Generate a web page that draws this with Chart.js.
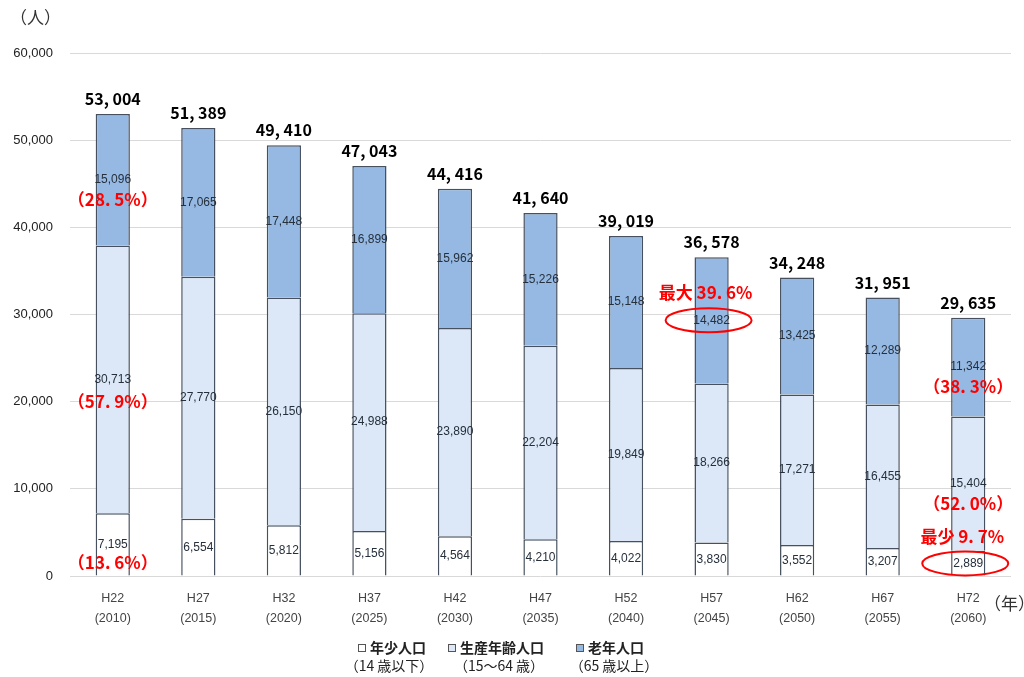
<!DOCTYPE html>
<html>
<head>
<meta charset="utf-8">
<script src="https://cdn.jsdelivr.net/npm/chart.js@4.4.0/dist/chart.umd.min.js"></script>
<style>
  html, body { margin: 0; padding: 0; background: #fff; }
  #wrap { width: 1024px; height: 677px; position: relative; }
</style>
</head>
<body>
<div id="wrap"><canvas id="popChart"></canvas></div>
<script>
// population by age group (persons)
const eraLabels  = ['H22', 'H27', 'H32', 'H37', 'H42', 'H47', 'H52', 'H57', 'H62', 'H67', 'H72'];
const yearLabels = ['(2010)', '(2015)', '(2020)', '(2025)', '(2030)', '(2035)', '(2040)', '(2045)', '(2050)', '(2055)', '(2060)'];
const young   = [7195, 6554, 5812, 5156, 4564, 4210, 4022, 3830, 3552, 3207, 2889];
const working = [30713, 27770, 26150, 24988, 23890, 22204, 19849, 18266, 17271, 16455, 15404];
const elderly = [15096, 17065, 17448, 16899, 15962, 15226, 15148, 14482, 13425, 12289, 11342];
const seriesNames = ['年少人口', '生産年齢人口', '老年人口'];
const seriesNotes = ['（14 歳以下）', '（15～64 歳）', '（65 歳以上）'];
const yMax = 60000;
const yStep = 10000;

const segColors = ['#ffffff', '#dce8f7', '#95b9e3'];
const edgeColor = '#46505e';
const series = [young, working, elderly];
const totals = young.map((v, i) => v + working[i] + elderly[i]);

const jpFont = '"Noto Sans CJK JP", "Noto Sans", sans-serif';
const fmt = n => n.toLocaleString('en-US');
const fmtWide = n => fmt(n).replace(/,/g, ', ');
const pct = (i, s) => (series[s][i] / totals[i] * 100).toFixed(1);

// red call-outs: which bar/segment, and whether to ring the value
const last = eraLabels.length - 1;
const maxElderly = elderly.map((v, i) => v / totals[i]).reduce((b, r, i, a) => r > a[b] ? i : b, 0);
const callouts = [
  { bar: 0, seg: 2, text: () => '（' + pct(0, 2) + '%）', dy: 20 },
  { bar: 0, seg: 1, text: () => '（' + pct(0, 1) + '%）', dy: 22 },
  { bar: 0, seg: 0, text: () => '（' + pct(0, 0) + '%）', dy: 18 },
  { bar: last, seg: 2, text: () => '（' + pct(last, 2) + '%）', dy: 19 },
  { bar: last, seg: 1, text: () => '（' + pct(last, 1) + '%）', dy: 20 },
  { bar: last, seg: 0, text: () => '最少 ' + pct(last, 0) + '%', dy: -27, ring: true },
  { bar: maxElderly, seg: 2, text: () => '最大 ' + pct(maxElderly, 2) + '%', dy: -28, ring: true }
];

const labelPlugin = {
  id: 'barLabels',
  afterDatasetsDraw(chart) {
    const ctx = chart.ctx;
    const y = chart.scales.y;
    ctx.save();
    ctx.textAlign = 'center';
    ctx.textBaseline = 'middle';

    // segment values
    ctx.font = '12px "Liberation Sans", Arial, sans-serif';
    ctx.fillStyle = '#26303c';
    series.forEach((data, s) => {
      const meta = chart.getDatasetMeta(s);
      data.forEach((v, i) => {
        const base = series.slice(0, s).reduce((a, d) => a + d[i], 0);
        ctx.fillText(fmt(v), meta.data[i].x, y.getPixelForValue(base + v / 2));
      });
    });

    // totals above bars
    ctx.font = 'bold 16px ' + jpFont;
    ctx.fillStyle = '#000';
    const topMeta = chart.getDatasetMeta(2);
    totals.forEach((t, i) => {
      ctx.fillText(fmtWide(t), topMeta.data[i].x, y.getPixelForValue(t) - 15);
    });

    // red notes
    ctx.font = 'bold 17px ' + jpFont;
    ctx.fillStyle = '#ff0000';
    ctx.strokeStyle = '#ff0000';
    ctx.lineWidth = 2;
    callouts.forEach(c => {
      const x = chart.getDatasetMeta(c.seg).data[c.bar].x;
      const base = series.slice(0, c.seg).reduce((a, d) => a + d[c.bar], 0);
      const cy = y.getPixelForValue(base + series[c.seg][c.bar] / 2);
      ctx.fillText(c.text().replace(/\./, '. '), x + (c.ring ? -6 : 0), cy + c.dy);
      if (c.ring) {
        ctx.beginPath();
        ctx.ellipse(x - 3, cy, 43, 12, 0, 0, Math.PI * 2);
        ctx.stroke();
      }
    });
    ctx.restore();
  },
  afterDraw(chart) {
    const ctx = chart.ctx;
    ctx.save();
    ctx.textBaseline = 'middle';
    ctx.fillStyle = '#333';
    ctx.font = '17px ' + jpFont;
    ctx.textAlign = 'left';
    ctx.fillText('（人）', 10, 18);
    ctx.fillText('（年）', 984, 604);

    // legend, two lines per entry
    const centers = [392, 496, 610];
    const noteCenters = [389, 499, 614];
    seriesNames.forEach((name, s) => {
      ctx.font = 'bold 14px ' + jpFont;
      const w = ctx.measureText(name).width + 12;
      const x0 = centers[s] - w / 2;
      ctx.fillStyle = segColors[s];
      ctx.fillRect(x0, 644, 8, 8);
      ctx.strokeStyle = '#555';
      ctx.lineWidth = 1;
      ctx.strokeRect(x0 + 0.5, 644.5, 7, 7);
      ctx.fillStyle = '#222';
      ctx.textAlign = 'left';
      ctx.fillText(name, x0 + 12, 648);
      ctx.font = '14px ' + jpFont;
      ctx.textAlign = 'center';
      ctx.fillText(seriesNotes[s], noteCenters[s], 666);
    });
    ctx.restore();
  }
};

new Chart(document.getElementById('popChart'), {
  type: 'bar',
  data: {
    labels: eraLabels.map((e, i) => [e, yearLabels[i]]),
    datasets: series.map((d, s) => ({
      label: seriesNames[s],
      data: d,
      backgroundColor: segColors[s],
      borderColor: edgeColor,
      borderWidth: 1.5,
      borderSkipped: 'bottom',
      barPercentage: 0.4,
      categoryPercentage: 1
    }))
  },
  options: {
    responsive: true,
    maintainAspectRatio: false,
    animation: false,
    layout: { padding: { top: 53, right: 13, left: 0, bottom: 0 } },
    plugins: { legend: { display: false }, tooltip: { enabled: false } },
    scales: {
      x: {
        stacked: true,
        grid: { display: false },
        border: { display: false },
        ticks: { color: '#444', font: { size: 12.5, family: '"Liberation Sans", Arial', lineHeight: 1.6 }, padding: 5, maxRotation: 0 },
        afterFit: s => { s.height = 101; }
      },
      y: {
        stacked: true,
        min: 0,
        max: yMax,
        grid: { color: '#d9d9d9', drawTicks: false },
        border: { display: false },
        ticks: { stepSize: yStep, color: '#222', font: { size: 13, family: '"Liberation Sans", Arial' }, padding: 17, callback: v => fmt(v) },
        afterFit: s => { s.width = 70; }
      }
    }
  },
  plugins: [labelPlugin]
});
</script>
</body>
</html>
